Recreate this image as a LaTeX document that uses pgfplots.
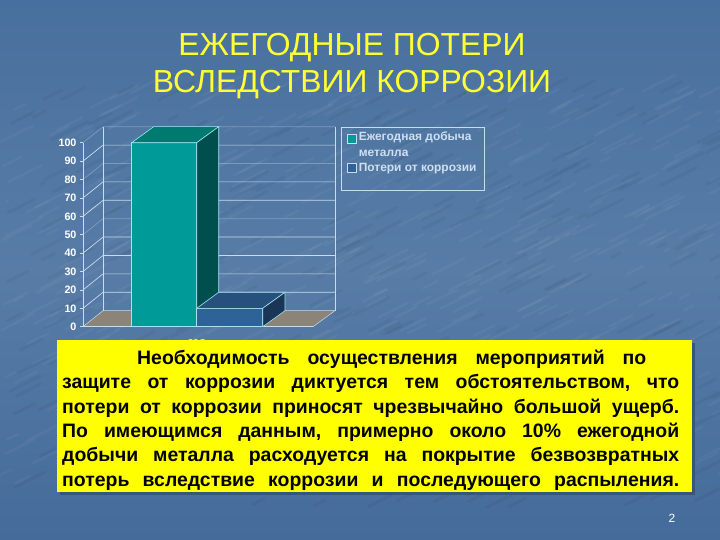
\documentclass[border=0pt]{standalone}
\usepackage{pgfplots}
\pgfplotsset{compat=1.18}
\usepackage{fontspec}
\setmainfont{Liberation Sans}
\definecolor{slidea}{HTML}{48709E}
\definecolor{slideb}{HTML}{587CA6}
\definecolor{slidec}{HTML}{446B9A}
\definecolor{titlecol}{HTML}{FFFF33}
\definecolor{gridcol}{HTML}{C8DCF0}
\definecolor{edgecol}{HTML}{9FE6EE}
\definecolor{tealf}{HTML}{009A98}
\definecolor{tealt}{HTML}{007A70}
\definecolor{teals}{HTML}{004F4E}
\definecolor{bluef}{HTML}{2E6299}
\definecolor{bluet}{HTML}{27507E}
\definecolor{blues}{HTML}{1A3556}
\definecolor{floorcol}{HTML}{8C8478}
\definecolor{boxcol}{HTML}{FFFF00}
\newcommand{\jline}[1]{\hbox to 617bp{#1}}
\pgfplotsset{
  square legend/.style={legend image code/.code={\draw[##1,draw=gridcol,line width=0.8pt] (0bp,-4.5bp) rectangle (9bp,4.5bp);}},
  raised legend/.style={legend image code/.code={\draw[##1,draw=gridcol,line width=0.8pt] (0bp,1.5bp) rectangle (9bp,10.5bp);}},
}
\begin{document}
\begin{tikzpicture}[x=1bp,y=-1bp]
\path[use as bounding box,top color=slidea,bottom color=slidec,middle color=slideb] (0,0) rectangle (720,540);
% paper texture of the slide background
\pgfmathsetseed{7}
\foreach \i in {1,...,500}{
  \pgfmathsetmacro{\px}{720*rnd}
  \pgfmathsetmacro{\py}{90+400*rnd}
  \pgfmathsetmacro{\pl}{8+30*rnd}
  \draw[white,opacity=0.04,line width=2.5pt,line cap=round] (\px,\py) -- ++(\pl,-0.5*\pl);
}
\foreach \i in {1,...,300}{
  \pgfmathsetmacro{\px}{720*rnd}
  \pgfmathsetmacro{\py}{90+420*rnd}
  \pgfmathsetmacro{\pl}{8+30*rnd}
  \draw[black,opacity=0.04,line width=3pt,line cap=round] (\px,\py) -- ++(\pl,-0.5*\pl);
}
\node[titlecol,font=\fontsize{32}{38}\selectfont,align=center,anchor=center] at (352,66) {ЕЖЕГОДНЫЕ ПОТЕРИ\\ВСЛЕДСТВИИ КОРРОЗИИ};
\begin{axis}[
  at={(83bp,-326.7bp)},anchor=origin,
  scale only axis,width=252bp,height=200bp,
  xmin=83,xmax=335,ymin=0,ymax=108.7,
  clip=false,
  axis lines*=left,
  axis line style={draw=none},
  xtick={197},xticklabels={год},
  ytick={0,10,...,100},
  tick style={gridcol,line width=0.6pt},
  x tick style={draw=none},
  major tick length=3bp,
  tick align=outside,
  ticklabel style={white,font=\fontsize{10.8}{12}\bfseries\selectfont},
  x tick label style={yshift=-6bp},
  /pgf/number format/assume math mode=true,
  legend style={at={(1.022,0.999)},anchor=north west,draw=gridcol,fill=none,line width=0.9pt,
    text=gridcol!90!white,font=\fontsize{12}{16}\bfseries\selectfont,cells={align=left,anchor=west},
    inner xsep=6bp,inner ysep=2bp,row sep=1.5bp},
  legend cell align=left,
]
% floor and walls
\addplot[fill=floorcol,draw=gridcol,line width=0.5pt,forget plot] coordinates {(83,0) (103,8.7) (335,8.7) (313,0) (83,0)};
\addplot[gridcol,line width=0.7pt,forget plot] coordinates {(83,0) (83,100)};
\addplot[gridcol,line width=0.7pt,forget plot] coordinates {(103,8.7) (103,108.7)};
\addplot[gridcol,line width=0.7pt,forget plot] coordinates {(335,8.7) (335,108.7)};
\addplot[gridcol,line width=0.7pt,forget plot] coordinates {(83,0) (313,0)};
% grid on back wall, slanted on side wall
\pgfplotsinvokeforeach{10,20,30,40,60,70,90}{
  \addplot[gridcol,line width=0.7pt,forget plot] coordinates {(83,#1) (103,#1+8.7) (335,#1+8.7)};
}
\pgfplotsinvokeforeach{50,80,100}{
  \addplot[gridcol,opacity=0.35,line width=0.7pt,forget plot] coordinates {(83,#1) (103,#1+8.7) (335,#1+8.7)};
}
% teal bar
\addplot[fill=tealf,draw=edgecol,line width=0.6pt,ybar,bar width=65,bar shift=0pt,raised legend] coordinates {(164.2,100)};
\addlegendentry{Ежегодная добыча\\металла}
\addplot[fill=tealt,draw=edgecol,line width=0.6pt,forget plot] coordinates {(131.7,100) (153.7,108.7) (218.7,108.7) (196.7,100) (131.7,100)};
\addplot[fill=teals,draw=edgecol,line width=0.6pt,forget plot] coordinates {(196.7,0) (218.7,8.7) (218.7,108.7) (196.7,100) (196.7,0)};
% blue bar
\addplot[fill=bluef,draw=edgecol,line width=0.6pt,ybar,bar width=66,bar shift=0pt,square legend] coordinates {(229.7,10)};
\addlegendentry{Потери от коррозии}
\addlegendimage{empty legend}
\addlegendentry{\phantom{x}}
\addplot[fill=bluet,draw=edgecol,line width=0.6pt,forget plot] coordinates {(196.7,10) (218.7,18.7) (285,18.7) (262.7,10) (196.7,10)};
\addplot[fill=blues,draw=edgecol,line width=0.6pt,forget plot] coordinates {(262.7,0) (285,8.7) (285,18.7) (262.7,10) (262.7,0)};
\end{axis}
\fill[slidec!80!black] (60,343) rectangle (695,495);
\fill[boxcol] (57,340) rectangle (692,492);
\node[anchor=north west,inner sep=0pt,text=black,font=\fontsize{19.5}{24.4}\bfseries\selectfont] at (62,350) {\vbox{\spaceskip=0.15em plus 3em
\jline{\hskip 75bp Необходимость\hfil осуществления\hfil мероприятий\hfil по\hskip 33bp}
\jline{защите\hfil от\hfil коррозии\hfil диктуется\hfil тем\hfil обстоятельством,\hfil что}
\jline{потери\hfil от\hfil коррозии\hfil приносят\hfil чрезвычайно\hfil большой\hfil ущерб.}
\jline{По\hfil имеющимся\hfil данным,\hfil примерно\hfil около\hfil 10\%\hfil ежегодной}
\jline{добычи\hfil металла\hfil расходуется\hfil на\hfil покрытие\hfil безвозвратных}
\jline{потерь\hfil вследствие\hfil коррозии\hfil и\hfil последующего\hfil распыления.}}};
\node[white,font=\fontsize{12}{14}\selectfont] at (672,518) {2};
\end{tikzpicture}
\end{document}
